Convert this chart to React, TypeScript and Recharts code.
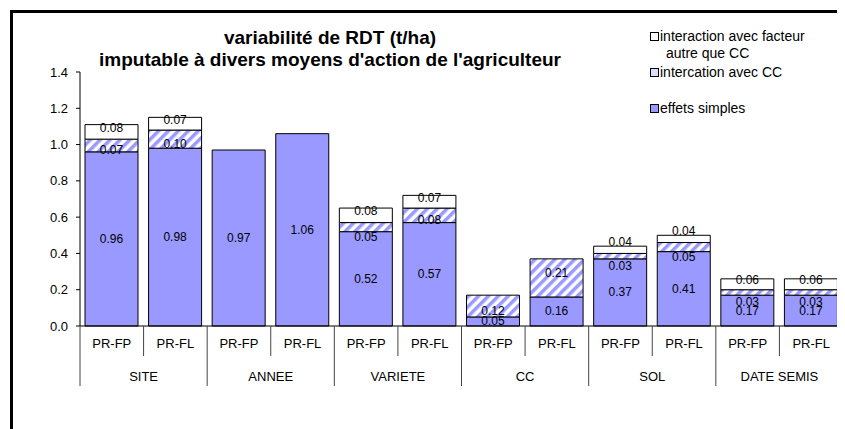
import { BarChart, Bar, XAxis, YAxis, LabelList } from 'recharts';

const groups = ['SITE', 'ANNEE', 'VARIETE', 'CC', 'SOL', 'DATE SEMIS'];
const subs = ['PR-FP', 'PR-FL'];
const simple = [0.96, 0.98, 0.97, 1.06, 0.52, 0.57, 0.05, 0.16, 0.37, 0.41, 0.17, 0.17];
const ccInter = [0.07, 0.1, 0, 0, 0.05, 0.08, 0.12, 0.21, 0.03, 0.05, 0.03, 0.03];
const otherInter = [0.08, 0.07, 0, 0, 0.08, 0.07, 0, 0, 0.04, 0.04, 0.06, 0.06];
const yTicks = [0, 0.2, 0.4, 0.6, 0.8, 1.0, 1.2, 1.4];

const seriesNames = {
  other: ['interaction avec facteur', 'autre que CC'],
  cc: ['intercation avec CC'],
  simple: ['effets simples'],
};

const data = simple.map((v, i) => ({
  sub: subs[i % 2],
  group: groups[Math.floor(i / 2)],
  simple: v,
  cc: ccInter[i],
  other: otherInter[i],
}));

const W = 845;
const H = 429;
const AXIS_W = 80;
const RIGHT = 2;
const SLOT = (W - AXIS_W - RIGHT) / data.length;
const FONT = '"Liberation Sans", Arial, sans-serif';
const BLUE = '#9999ff';

const fmt = (v: any) => (v ? Number(v).toFixed(2) : '');

// Excel nudges the labels of thin segments away from each other
function makeLabel(kind: 'simple' | 'cc' | 'other') {
  return (props: any) => {
    const { x, y, width, height, value } = props;
    if (!value) return null;
    const h = Math.abs(height);
    let dy = 0;
    if (kind === 'cc') dy = h < 12 ? 10 : value >= 0.2 ? -5 : 5;
    if (kind === 'other') dy = h < 10 ? -8 : -4;
    return (
      <text
        x={x + width / 2}
        y={y + height / 2 + dy}
        textAnchor="middle"
        dominantBaseline="central"
        fontSize={12}
        fontFamily={FONT}
        fill="#000"
      >
        {fmt(value)}
      </text>
    );
  };
}

function CategoryTick(props: any) {
  const { x, y, index } = props;
  const half = SLOT / 2;
  const isFirst = index % 2 === 0;
  const isLast = index === data.length - 1;
  return (
    <g>
      <text x={x} y={y + 17} textAnchor="middle" dominantBaseline="central" fontSize={13} fontFamily={FONT} fill="#000">
        {data[index].sub}
      </text>
      <line x1={x - half} y1={y} x2={x - half} y2={isFirst ? y + 60 : y + 30} stroke="#444" />
      {isFirst && (
        <text x={x + half} y={y + 50} textAnchor="middle" dominantBaseline="central" fontSize={13} fontFamily={FONT} fill="#000">
          {data[index].group}
        </text>
      )}
      {isLast && <line x1={x + half} y1={y} x2={x + half} y2={y + 60} stroke="#444" />}
    </g>
  );
}

function LegendBox() {
  const items = [
    { lines: seriesNames.other, fill: '#fff', top: 0 },
    { lines: seriesNames.cc, fill: '#dcdcff', top: 36 },
    { lines: seriesNames.simple, fill: BLUE, top: 72 },
  ];
  return (
    <div style={{ position: 'absolute', left: 650, top: 28, width: 190, height: 100, fontFamily: FONT, fontSize: 14, color: '#000' }}>
      {items.map((it, i) => (
        <div key={i} style={{ position: 'absolute', left: 0, top: it.top, lineHeight: '17px' }}>
          <svg width={9} height={9} style={{ position: 'absolute', left: 0, top: 4 }}>
            <rect x={0.5} y={0.5} width={8} height={8} fill={it.fill} stroke="#000" />
          </svg>
          <div style={{ marginLeft: 10 }}>
            {it.lines.map((l, j) => (
              <div key={j} style={{ whiteSpace: 'nowrap', marginLeft: j > 0 ? 6 : 0 }}>{l}</div>
            ))}
          </div>
        </div>
      ))}
    </div>
  );
}

export default function App() {
  return (
    <div style={{ position: 'relative', width: W, height: H, marginLeft: -8, marginTop: -8, overflow: 'hidden', background: '#fff' }}>
      <div
        style={{
          position: 'absolute',
          left: 10,
          top: 10,
          width: W,
          height: H,
          borderTop: '3px solid #000',
          borderLeft: '3px solid #000',
        }}
      />
      <div style={{ position: 'absolute', left: 0, top: 0 }}>
        <BarChart width={W} height={H} data={data} margin={{ top: 72, right: RIGHT, left: 0, bottom: 33 }} barSize={53}>
          <defs>
            <pattern id="hatch" patternUnits="userSpaceOnUse" width={7} height={7} patternTransform="rotate(45)">
              <rect width={7} height={7} fill="#fff" />
              <rect width={3.5} height={7} fill={BLUE} />
            </pattern>
          </defs>
          <XAxis
            dataKey="sub"
            interval={0}
            height={70}
            tickSize={0}
            tickMargin={0}
            axisLine={{ stroke: '#000' }}
            tick={<CategoryTick />}
          />
          <YAxis
            width={AXIS_W}
            domain={[0, 1.4]}
            ticks={yTicks}
            tickFormatter={(v: number) => v.toFixed(1)}
            tickSize={4}
            tickMargin={8}
            axisLine={{ stroke: '#000' }}
            tickLine={{ stroke: '#000' }}
            tick={{ fontSize: 13, fill: '#000', fontFamily: FONT }}
          />
          <Bar dataKey="simple" stackId="a" fill={BLUE} stroke="#000" strokeWidth={1} isAnimationActive={false}>
            <LabelList dataKey="simple" content={makeLabel('simple')} />
          </Bar>
          <Bar dataKey="cc" stackId="a" fill="url(#hatch)" stroke="#000" strokeWidth={1} isAnimationActive={false}>
            <LabelList dataKey="cc" content={makeLabel('cc')} />
          </Bar>
          <Bar dataKey="other" stackId="a" fill="#fff" stroke="#000" strokeWidth={1} isAnimationActive={false}>
            <LabelList dataKey="other" content={makeLabel('other')} />
          </Bar>
        </BarChart>
      </div>
      <div
        style={{
          position: 'absolute',
          left: 80,
          width: 500,
          top: 27,
          textAlign: 'center',
          fontFamily: FONT,
          fontWeight: 'bold',
          fontSize: 19,
          lineHeight: '22px',
        }}
      >
        <div>variabilité de RDT (t/ha)</div>
        <div>imputable à divers moyens d'action de l'agriculteur</div>
      </div>
      <LegendBox />
    </div>
  );
}
